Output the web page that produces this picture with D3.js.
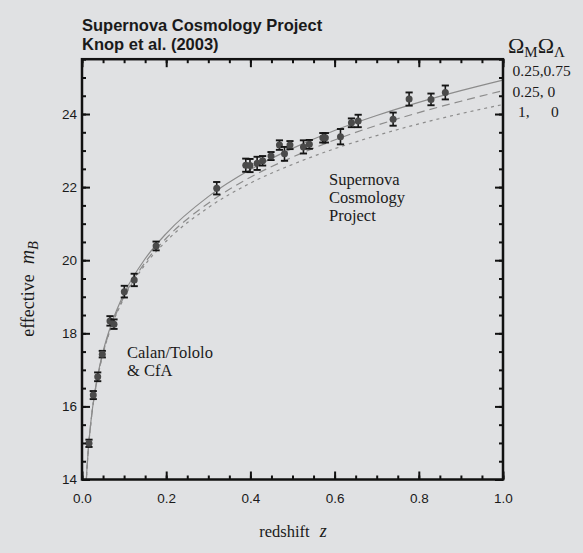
<!DOCTYPE html>
<html><head><meta charset="utf-8">
<script src="https://cdn.jsdelivr.net/npm/d3@7"></script>
<style>
html,body{margin:0;padding:0;background:#e0e1e3;}
svg{display:block;}
</style></head>
<body>
<script>
// ---- data ----
const zLow = [0.0166, 0.0268, 0.0373, 0.0482, 0.0665, 0.076, 0.1005, 0.124, 0.176];
const mLow = [14.99, 16.31, 16.81, 17.43, 18.34, 18.25, 19.14, 19.46, 20.39];
const eLow = [0.10, 0.11, 0.12, 0.09, 0.13, 0.13, 0.16, 0.17, 0.12];

const zHigh = [0.320, 0.389, 0.399, 0.416, 0.429, 0.449, 0.469, 0.481, 0.494, 0.526, 0.540, 0.572, 0.578, 0.614, 0.640, 0.656, 0.739, 0.777, 0.829, 0.863];
const mHigh = [21.97, 22.60, 22.59, 22.65, 22.72, 22.85, 23.15, 22.91, 23.15, 23.10, 23.17, 23.35, 23.35, 23.38, 23.76, 23.81, 23.86, 24.41, 24.40, 24.59];
const eHigh = [0.17, 0.18, 0.18, 0.18, 0.13, 0.11, 0.13, 0.19, 0.11, 0.18, 0.12, 0.13, 0.13, 0.21, 0.12, 0.17, 0.18, 0.18, 0.16, 0.19];

const zModel  = [0.01, 0.012, 0.015, 0.02, 0.03, 0.04, 0.05, 0.07, 0.1, 0.15, 0.2, 0.3, 0.4, 0.5, 0.6, 0.7, 0.8, 0.9, 1.0];
const mLambda = [13.94, 14.34, 14.83, 15.46, 16.36, 17.00, 17.50, 18.26, 19.09, 20.04, 20.73, 21.74, 22.48, 23.06, 23.55, 23.96, 24.32, 24.64, 24.93];
const mOpen   = [13.93, 14.33, 14.82, 15.44, 16.33, 16.97, 17.46, 18.21, 19.01, 19.94, 20.60, 21.56, 22.27, 22.82, 23.29, 23.69, 24.04, 24.35, 24.64];
const mEdS    = [13.93, 14.32, 14.81, 15.44, 16.32, 16.95, 17.44, 18.18, 18.97, 19.88, 20.52, 21.44, 22.11, 22.62, 23.05, 23.41, 23.73, 24.01, 24.26];

const xTicks = [0, 0.2, 0.4, 0.6, 0.8, 1.0];
const yTicks = [14, 16, 18, 20, 22, 24];
const legendRows = [["0.25,0.75"], ["0.25, 0"], ["1,", "0"]];

// ---- drawing ----
const W = 583, H = 553;
const SANS = "'Liberation Sans', Arial, Helvetica, sans-serif";
const SERIF = "'Liberation Serif', 'Times New Roman', serif";
const x = d3.scaleLinear().domain([0, 1]).range([82, 503]);
const y = d3.scaleLinear().domain([14, 25.5]).range([479.5, 59.2]);

const svg = d3.select("body").append("svg").attr("width", W).attr("height", H);
svg.append("rect").attr("width", W).attr("height", H).attr("fill", "#e0e1e3");

svg.append("clipPath").attr("id", "plotclip").append("rect")
  .attr("x", x(0)).attr("y", y(25.5)).attr("width", x(1) - x(0)).attr("height", y(14) - y(25.5));

// model curves
const line = d3.line().x(d => x(d[0])).y(d => y(d[1])).curve(d3.curveMonotoneX);
const curves = [
  {m: mLambda, dash: null},
  {m: mOpen, dash: "8,5"},
  {m: mEdS, dash: "3,4"}
];
const cg = svg.append("g").attr("clip-path", "url(#plotclip)");
curves.forEach(c => {
  cg.append("path").datum(zModel.map((z, i) => [z, c.m[i]]))
    .attr("d", line).attr("fill", "none").attr("stroke", "#8c8c8c")
    .attr("stroke-width", 1.2).attr("stroke-dasharray", c.dash);
});

// data points
const pts = zLow.map((z, i) => ({z, m: mLow[i], e: eLow[i]}))
  .concat(zHigh.map((z, i) => ({z, m: mHigh[i], e: eHigh[i]})));
const pg = svg.append("g");
const eb = pg.selectAll("g.eb").data(pts).join("g");
eb.append("line").attr("x1", d => x(d.z)).attr("x2", d => x(d.z))
  .attr("y1", d => y(d.m - d.e)).attr("y2", d => y(d.m + d.e))
  .attr("stroke", "#151515").attr("stroke-width", 1.6);
[-1, 1].forEach(s => {
  eb.append("line").attr("x1", d => x(d.z) - 3.6).attr("x2", d => x(d.z) + 3.6)
    .attr("y1", d => y(d.m + s * d.e)).attr("y2", d => y(d.m + s * d.e))
    .attr("stroke", "#151515").attr("stroke-width", 1.9);
});
eb.append("circle").attr("cx", d => x(d.z)).attr("cy", d => y(d.m)).attr("r", 3.5)
  .attr("fill", "#4a4a4a");

// axes (ticks inward on all four sides)
function styleAxis(g) {
  g.select(".domain").remove();
  g.selectAll(".tick line").attr("stroke", "#111").attr("stroke-width", 2);
  g.selectAll(".tick text").attr("font-family", SANS).attr("font-size", 13.5).attr("fill", "#1a1a1a");
}
const xMinor = d3.range(0, 1.0001, 0.05);
const yMinor = d3.range(14, 25.5001, 0.5);
const B = y(14), T = y(25.5), L = x(0), R = x(1);

svg.append("g").attr("transform", `translate(0,${B})`)
  .call(d3.axisBottom(x).tickValues(xMinor).tickSize(-4).tickFormat("")).call(styleAxis);
svg.append("g").attr("transform", `translate(0,${B})`)
  .call(d3.axisBottom(x).tickValues(xTicks).tickSize(-8).tickPadding(14).tickFormat(d3.format(".1f"))).call(styleAxis);
svg.append("g").attr("transform", `translate(0,${T})`)
  .call(d3.axisTop(x).tickValues(xMinor).tickSize(-4).tickFormat("")).call(styleAxis);
svg.append("g").attr("transform", `translate(0,${T})`)
  .call(d3.axisTop(x).tickValues(xTicks).tickSize(-8).tickFormat("")).call(styleAxis);

svg.append("g").attr("transform", `translate(${L},0)`)
  .call(d3.axisLeft(y).tickValues(yMinor).tickSize(-4).tickFormat("")).call(styleAxis);
svg.append("g").attr("transform", `translate(${L},0)`)
  .call(d3.axisLeft(y).tickValues(yTicks).tickSize(-8).tickPadding(5).tickFormat(d3.format("d"))).call(styleAxis);
svg.append("g").attr("transform", `translate(${R},0)`)
  .call(d3.axisRight(y).tickValues(yMinor).tickSize(-4).tickFormat("")).call(styleAxis);
svg.append("g").attr("transform", `translate(${R},0)`)
  .call(d3.axisRight(y).tickValues(yTicks).tickSize(-8).tickFormat("")).call(styleAxis);

svg.append("rect").attr("x", L).attr("y", T).attr("width", R - L).attr("height", B - T)
  .attr("fill", "none").attr("stroke", "#111").attr("stroke-width", 2.5);

// titles
svg.append("text").attr("x", 82).attr("y", 31).attr("font-family", SANS).attr("font-weight", "bold")
  .attr("font-size", 16.5).attr("fill", "#1a1a1a").text("Supernova Cosmology Project");
svg.append("text").attr("x", 82).attr("y", 50).attr("font-family", SANS).attr("font-weight", "bold")
  .attr("font-size", 16.5).attr("fill", "#1a1a1a").text("Knop et al. (2003)");

// axis labels
const xl = svg.append("text").attr("x", 293).attr("y", 537).attr("text-anchor", "middle")
  .attr("font-family", SERIF).attr("font-size", 16.5).attr("fill", "#1a1a1a");
xl.append("tspan").text("redshift");
xl.append("tspan").attr("dx", 10).attr("font-style", "italic").attr("font-size", 18).text("z");

const yl = svg.append("text").attr("transform", "translate(34,289) rotate(-90)").attr("text-anchor", "middle")
  .attr("font-family", SERIF).attr("font-size", 18).attr("fill", "#1a1a1a");
yl.append("tspan").text("effective");
yl.append("tspan").attr("dx", 10).attr("font-style", "italic").attr("font-size", 20).text("m");
yl.append("tspan").attr("dy", 4).attr("font-style", "italic").attr("font-size", 14).text("B");

// legend
const lg = svg.append("text").attr("x", 508).attr("y", 53).attr("font-family", SERIF)
  .attr("font-size", 22).attr("fill", "#1a1a1a");
lg.append("tspan").text("Ω");
lg.append("tspan").attr("dy", 4).attr("font-size", 15).text("M");
lg.append("tspan").attr("dy", -4).text("Ω");
lg.append("tspan").attr("dy", 4).attr("font-size", 15).text("Λ");

const rowY = [76, 96.5, 117];
legendRows.forEach((r, i) => {
  if (r.length === 1) {
    svg.append("text").attr("x", 512.5).attr("y", rowY[i]).attr("font-family", SERIF)
      .attr("font-size", 15.5).attr("fill", "#1a1a1a").text(r[0]);
  } else {
    svg.append("text").attr("x", 518).attr("y", rowY[i]).attr("font-family", SERIF)
      .attr("font-size", 15.5).attr("fill", "#1a1a1a").text(r[0]);
    svg.append("text").attr("x", 551).attr("y", rowY[i]).attr("font-family", SERIF)
      .attr("font-size", 15.5).attr("fill", "#1a1a1a").text(r[1]);
  }
});

// annotations (each a single wrapped text)
const ann = [
  {x: 329, y: 184.5, lines: ["Supernova", "Cosmology", "Project"]},
  {x: 127, y: 358, lines: ["Calan/Tololo", "& CfA"]}
];
ann.forEach(a => {
  const t = svg.append("text").attr("x", a.x).attr("y", a.y).attr("font-family", SERIF)
    .attr("font-size", 16.5).attr("fill", "#1a1a1a");
  a.lines.forEach((s, i) => {
    t.append("tspan").attr("x", a.x).attr("dy", i === 0 ? 0 : 18.4).text(s);
  });
});
</script>
</body></html>
